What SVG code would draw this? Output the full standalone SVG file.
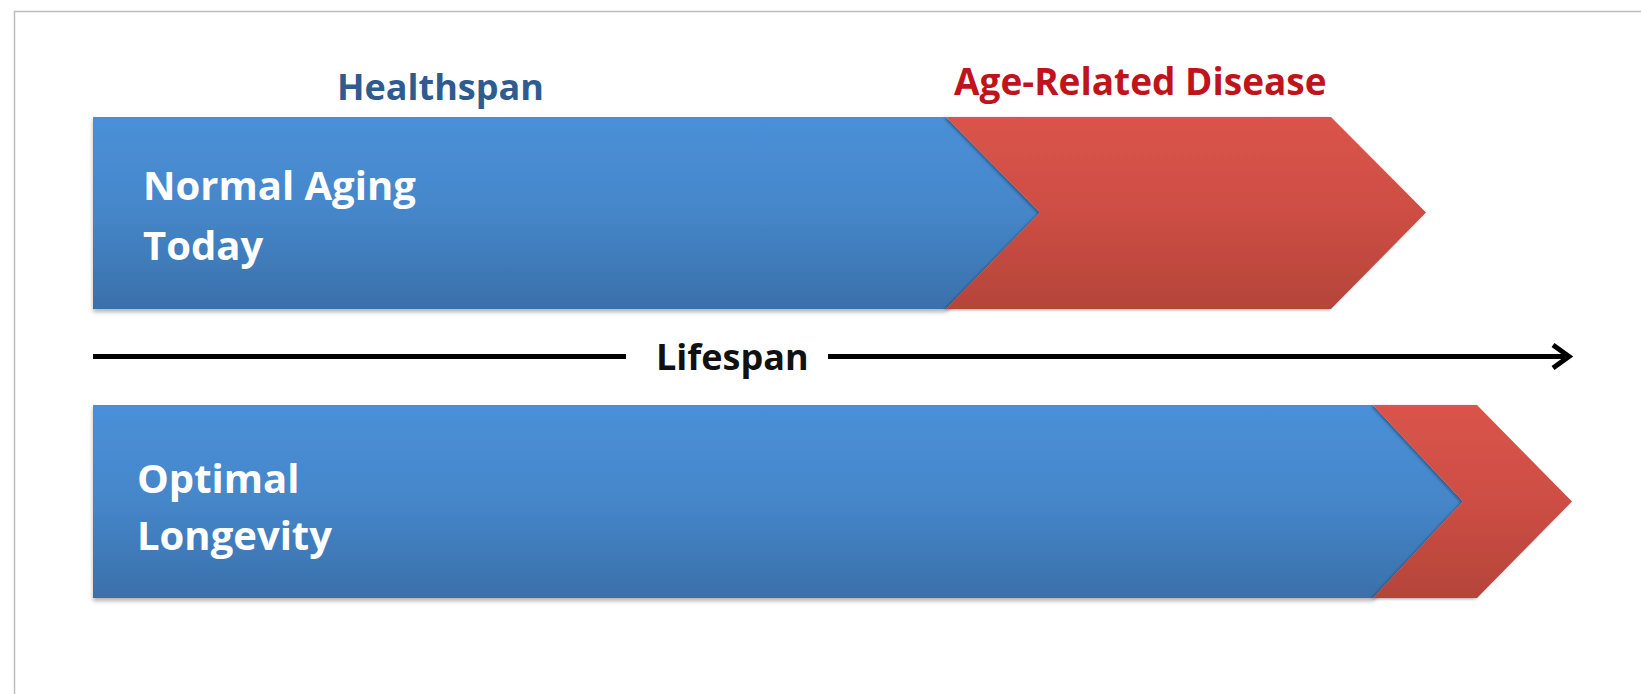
<svg xmlns="http://www.w3.org/2000/svg" width="1641" height="694" viewBox="0 0 1641 694">
<style>
  .lbl { font-family: "Open Sans", "Liberation Sans", sans-serif; font-weight: 700; }
  .node { font-size: 40px; fill: #ffffff; }
  .hdr { font-size: 36px; }
  .line { stroke: #000; stroke-width: 5; fill: none; }
</style>
<defs>
  <linearGradient id="gBlue" x1="0" y1="0" x2="0" y2="1">
    <stop offset="0" stop-color="#4A90D8"/>
    <stop offset="0.5" stop-color="#4586C9"/>
    <stop offset="1" stop-color="#3A70AA"/>
  </linearGradient>
  <linearGradient id="gRed" x1="0" y1="0" x2="0" y2="1">
    <stop offset="0" stop-color="#DA544A"/>
    <stop offset="0.5" stop-color="#CD4E44"/>
    <stop offset="1" stop-color="#B5443A"/>
  </linearGradient>
  <filter id="shadow" x="-5%" y="-10%" width="110%" height="130%">
    <feDropShadow dx="0" dy="3" stdDeviation="2" flood-color="#000" flood-opacity="0.3"/>
  </filter>
  <filter id="edge" x="-20%" y="-10%" width="140%" height="130%">
    <feDropShadow dx="-2" dy="1" stdDeviation="1.5" flood-color="#000" flood-opacity="0.35"/>
  </filter>
</defs>
<rect width="1641" height="694" fill="#ffffff"/>
<path d="M14.5 694 V11.5 H1641" fill="none" stroke="#bdbdbd" stroke-width="1.5"/>

<g id="normal-aging">
  <polygon points="93,117 946,117 1040,212.5 946,309 93,309" fill="url(#gBlue)" filter="url(#shadow)"/>
  <polygon points="946,117 1331,117 1426,212.5 1331,309 946,309 1040,212.5" fill="url(#gRed)" filter="url(#edge)"/>
  <text class="lbl node" x="143" y="200">Normal Aging</text>
  <text class="lbl node" x="143" y="260">Today</text>
</g>

<g id="healthspan-label">
  <text class="lbl hdr" x="337" y="100" fill="#2F5B8F">Healthspan</text>
</g>
<g id="disease-label">
  <text class="lbl hdr" x="954" y="95" fill="#C0141C" style="font-size:37px">Age-Related Disease</text>
</g>

<g id="optimal-longevity">
  <polygon points="93,405 1373,405 1463,501.5 1373,598 93,598" fill="url(#gBlue)" filter="url(#shadow)"/>
  <polygon points="1373,405 1477,405 1572,501.5 1477,598 1373,598 1463,501.5" fill="url(#gRed)" filter="url(#edge)"/>
  <text class="lbl node" x="137" y="493">Optimal</text>
  <text class="lbl node" x="137" y="550">Longevity</text>
</g>

<g id="connectors">
  <line class="line" x1="93" y1="356.5" x2="626" y2="356.5"/>
  <line class="line" x1="828" y1="356.5" x2="1567" y2="356.5"/>
  <polyline class="line" points="1553,345 1569,356.5 1553,368" stroke-linejoin="miter"/>
  <text class="lbl hdr" x="656" y="370" fill="#111111">Lifespan</text>
</g>
</svg>
